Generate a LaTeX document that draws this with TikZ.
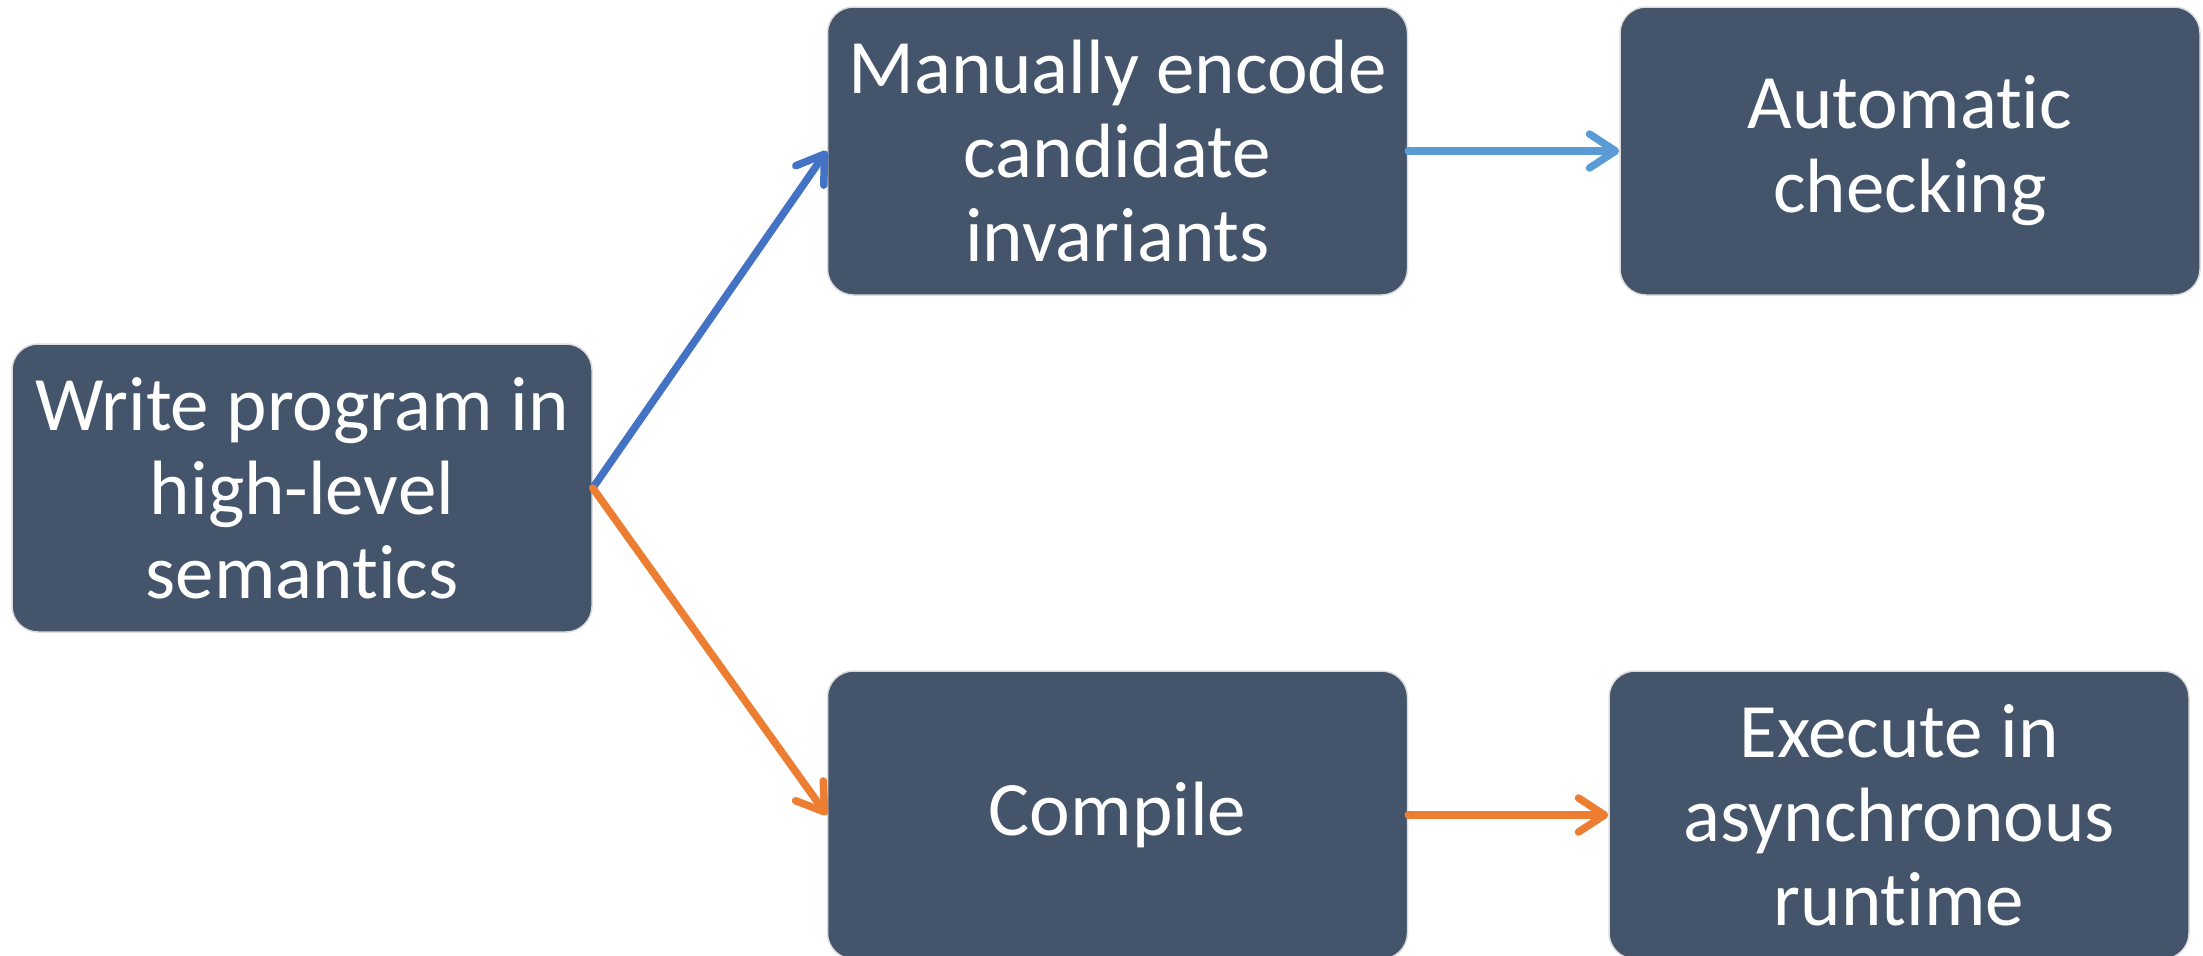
\documentclass[tikz,border=0pt]{standalone}
\usepackage{fontspec}
\setmainfont{Carlito}[Ligatures=NoCommon]
\usepackage{xcolor}
\definecolor{boxfill}{HTML}{44546A}
\definecolor{boxline}{HTML}{DCDCDC}
\definecolor{verify}{HTML}{4472C4}
\definecolor{verifylight}{HTML}{5B9BD5}
\definecolor{runpath}{HTML}{ED7D31}
\usepackage{tikz}
\usetikzlibrary{arrows.meta, positioning}

\begin{document}
\begin{tikzpicture}[
    procbox/.style={draw=boxline, line width=0.75pt, fill=boxfill,
                    rounded corners=13pt, minimum width=290pt,
                    minimum height=144pt, align=center, text=white,
                    font=\fontsize{38.5}{42}\selectfont},
    flow/.style={line width=3.75pt, line cap=round,
                 -{Straight Barb[length=13pt, width=17pt, line cap=round, line join=round]}}
  ]

  \useasboundingbox (0,0) rectangle (1101.5pt,-477.5pt);

  \node[procbox] (write) at (151pt,-244pt)
        {Write program in\\high-level\\semantics};

  \node[procbox, right=117pt of write, yshift=168.5pt] (manual)
        {Manually encode\\candidate\\invariants};

  \node[procbox, right=105.5pt of manual] (check)
        {Automatic\\checking};

  \node[procbox, right=117pt of write, yshift=-163.5pt] (compile)
        {Compile};

  \node[procbox, right=100pt of compile] (execute)
        {Execute in\\asynchronous\\runtime};

  % verification branch
  \draw[flow, verify] (write.east) -- (manual.west);
  \draw[flow, verifylight] (manual) -- (check);

  % execution branch
  \draw[flow, runpath] (write.east) -- (compile.west);
  \draw[flow, runpath] (compile) -- (execute);

\end{tikzpicture}
\end{document}
